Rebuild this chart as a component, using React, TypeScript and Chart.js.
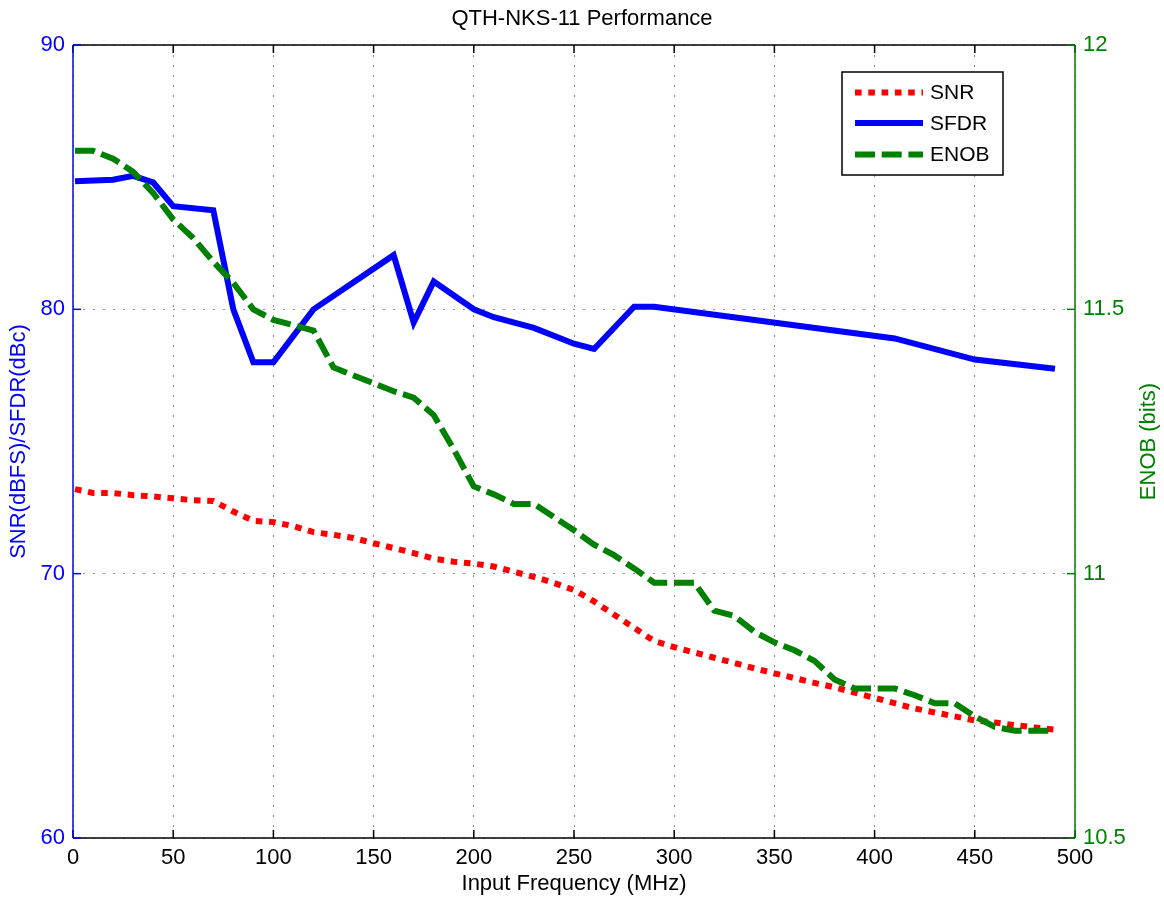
import React, { useEffect, useRef } from "react";
import { Chart, registerables } from "chart.js";

Chart.register(...registerables);

const TITLE = "QTH-NKS-11 Performance";
const X_TITLE = "Input Frequency (MHz)";
const Y_TITLE = "SNR(dBFS)/SFDR(dBc)";
const Y1_TITLE = "ENOB (bits)";

const FREQ = [1, 10, 20, 30, 40, 50, 60, 70, 80, 90, 100, 110, 120, 130, 140, 150, 160, 170, 180, 190, 200, 210, 220, 230, 240, 250, 260, 270, 280, 290, 300, 310, 320, 330, 340, 350, 360, 370, 380, 390, 400, 410, 420, 430, 440, 450, 460, 470, 480, 490];

const SNR = [73.2, 73.05, 73.05, 72.97, 72.92, 72.85, 72.78, 72.75, 72.35, 72.0, 71.95, 71.8, 71.57, 71.47, 71.35, 71.15, 70.97, 70.78, 70.57, 70.45, 70.38, 70.27, 70.07, 69.88, 69.65, 69.38, 68.95, 68.45, 67.95, 67.45, 67.22, 67.02, 66.82, 66.62, 66.42, 66.23, 66.05, 65.87, 65.7, 65.5, 65.3, 65.1, 64.9, 64.75, 64.6, 64.45, 64.37, 64.27, 64.18, 64.1];

const ENOB = [11.8, 11.8, 11.785, 11.76, 11.72, 11.67, 11.635, 11.59, 11.55, 11.5, 11.48, 11.47, 11.46, 11.39, 11.375, 11.36, 11.345, 11.333, 11.3, 11.235, 11.165, 11.15, 11.132, 11.132, 11.107, 11.082, 11.055, 11.035, 11.01, 10.983, 10.983, 10.983, 10.93, 10.92, 10.89, 10.87, 10.855, 10.835, 10.8, 10.783, 10.783, 10.783, 10.77, 10.755, 10.755, 10.73, 10.71, 10.703, 10.703, 10.703];

const SFDR_FREQ = [1, 20, 30, 40, 50, 70, 80, 90, 100, 120, 160, 170, 180, 200, 210, 230, 250, 260, 280, 290, 410, 450, 490];
const SFDR = [84.85, 84.9, 85.05, 84.8, 83.9, 83.75, 80.0, 78.0, 78.0, 80.0, 82.05, 79.5, 81.05, 80.0, 79.7, 79.3, 78.7, 78.5, 80.1, 80.1, 78.9, 78.1, 77.75];

const Y1_TICK_LABELS = ["10.5", "11", "11.5", "12"];

const FONT = "'Liberation Sans', Arial, Helvetica, sans-serif";
const BLUE = "#0000ff";
const RED = "#ff0000";
const GREEN = "#008000";

const W = 1164;
const H = 897;
const PLOT_LEFT = 73;
const PLOT_RIGHT = 1075;
const PLOT_TOP = 45;
const PLOT_BOTTOM = 838;
const FS = 22;

const toXY = (xs: number[], ys: number[]) => xs.map((x, i) => ({ x, y: ys[i] }));

const framePlugin = {
  id: "frameAndLegend",
  afterDatasetsDraw(chart: any) {
    const { ctx, chartArea: a, scales } = chart;
    const xs = scales.x;
    const ys = scales.y;
    const y1 = scales.y1;
    ctx.save();

    // legend
    const bw = 161;
    const bh = 103;
    const bx = a.right - 72 - bw;
    const by = a.top + 27;
    ctx.fillStyle = "#ffffff";
    ctx.fillRect(bx, by, bw, bh);
    ctx.lineWidth = 1.5;
    ctx.strokeStyle = "#000";
    ctx.strokeRect(bx, by, bw, bh);
    const rows = [20.6, 51, 82.6];
    chart.data.datasets.forEach((ds: any, i: number) => {
      const yy = by + rows[i];
      ctx.save();
      ctx.strokeStyle = ds.borderColor;
      ctx.lineWidth = ds.borderWidth;
      ctx.setLineDash(ds.borderDash || []);
      ctx.lineCap = "butt";
      ctx.beginPath();
      ctx.moveTo(bx + 13, yy);
      ctx.lineTo(bx + 81, yy);
      ctx.stroke();
      ctx.restore();
      ctx.fillStyle = "#000";
      ctx.font = `21px ${FONT}`;
      ctx.textAlign = "left";
      ctx.textBaseline = "middle";
      ctx.fillText(ds.label, bx + 88, yy + 1);
    });

    // frame
    ctx.setLineDash([]);
    ctx.lineWidth = 1.5;
    ctx.strokeStyle = "#000";
    ctx.beginPath();
    ctx.moveTo(a.left, a.top);
    ctx.lineTo(a.right, a.top);
    ctx.moveTo(a.left, a.bottom);
    ctx.lineTo(a.right, a.bottom);
    ctx.stroke();
    xs.ticks.forEach((t: any) => {
      const px = xs.getPixelForValue(t.value);
      ctx.beginPath();
      ctx.moveTo(px, a.top);
      ctx.lineTo(px, a.top + 8);
      ctx.moveTo(px, a.bottom);
      ctx.lineTo(px, a.bottom - 8);
      ctx.stroke();
    });
    ctx.strokeStyle = BLUE;
    ctx.beginPath();
    ctx.moveTo(a.left, a.top);
    ctx.lineTo(a.left, a.bottom);
    ctx.stroke();
    ys.ticks.forEach((t: any) => {
      const py = ys.getPixelForValue(t.value);
      ctx.beginPath();
      ctx.moveTo(a.left, py);
      ctx.lineTo(a.left + 8, py);
      ctx.stroke();
    });
    ctx.strokeStyle = GREEN;
    ctx.beginPath();
    ctx.moveTo(a.right, a.top);
    ctx.lineTo(a.right, a.bottom);
    ctx.stroke();
    y1.ticks.forEach((t: any) => {
      const py = y1.getPixelForValue(t.value);
      ctx.beginPath();
      ctx.moveTo(a.right, py);
      ctx.lineTo(a.right - 8, py);
      ctx.stroke();
    });

    // right axis title (reads bottom-to-top)
    ctx.translate(1149, (a.top + a.bottom) / 2);
    ctx.rotate(-Math.PI / 2);
    ctx.fillStyle = GREEN;
    ctx.font = `${FS}px ${FONT}`;
    ctx.textAlign = "center";
    ctx.textBaseline = "middle";
    ctx.fillText(Y1_TITLE, 0, 0);
    ctx.restore();
  },
};

export default function App() {
  const ref = useRef<HTMLCanvasElement | null>(null);

  useEffect(() => {
    document.body.style.margin = "0";
    document.body.style.overflow = "hidden";
    const canvas = ref.current;
    if (!canvas) return;
    const chart = new Chart(canvas, {
      type: "line",
      data: {
        datasets: [
          {
            label: "SNR",
            data: toXY(FREQ, SNR),
            borderColor: RED,
            backgroundColor: RED,
            borderWidth: 6,
            borderDash: [6.6, 6.7],
            borderCapStyle: "butt",
            pointRadius: 0,
            tension: 0,
            yAxisID: "y",
            order: 2,
          },
          {
            label: "SFDR",
            data: toXY(SFDR_FREQ, SFDR),
            borderColor: BLUE,
            backgroundColor: BLUE,
            borderWidth: 6,
            borderJoinStyle: "miter",
            pointRadius: 0,
            tension: 0,
            yAxisID: "y",
            order: 1,
          },
          {
            label: "ENOB",
            data: toXY(FREQ, ENOB),
            borderColor: GREEN,
            backgroundColor: GREEN,
            borderWidth: 6,
            borderDash: [20, 6.7],
            borderCapStyle: "butt",
            pointRadius: 0,
            tension: 0,
            yAxisID: "y1",
            order: 0,
          },
        ],
      } as any,
      options: {
        animation: false,
        responsive: false,
        maintainAspectRatio: false,
        layout: { padding: 0 },
        plugins: {
          legend: { display: false },
          tooltip: { enabled: false },
          title: {
            display: true,
            text: TITLE,
            color: "#000",
            font: { family: FONT, size: FS, weight: "normal" },
            padding: { top: 6, bottom: PLOT_TOP - 6 - FS * 1.2 },
          },
        },
        scales: {
          x: {
            type: "linear",
            position: "bottom",
            min: 0,
            max: 500,
            ticks: {
              stepSize: 50,
              color: "#000",
              font: { family: FONT, size: FS },
              padding: 7,
              maxRotation: 0,
            },
            grid: { color: "#8a8a8a", lineWidth: 1, drawTicks: false },
            border: { display: false, dash: [2, 8] },
            title: {
              display: true,
              text: X_TITLE,
              color: "#000",
              font: { family: FONT, size: FS },
              padding: { top: 0, bottom: 0 },
            },
            afterFit: (s: any) => {
              s.height = H - PLOT_BOTTOM;
            },
          },
          y: {
            type: "linear",
            position: "left",
            min: 60,
            max: 90,
            ticks: {
              stepSize: 10,
              color: BLUE,
              font: { family: FONT, size: FS },
              padding: 8,
            },
            grid: { color: "#8c8cf0", lineWidth: 1, drawTicks: false },
            border: { display: false, dash: [2, 8] },
            title: {
              display: true,
              text: Y_TITLE,
              color: BLUE,
              font: { family: FONT, size: FS },
              padding: { top: 6, bottom: 0 },
            },
            afterFit: (s: any) => {
              s.width = PLOT_LEFT;
            },
          },
          y1: {
            type: "linear",
            position: "right",
            min: 10.5,
            max: 12,
            ticks: {
              stepSize: 0.5,
              color: GREEN,
              font: { family: FONT, size: FS },
              padding: 8,
              callback: (_v: any, i: number) => Y1_TICK_LABELS[i],
            },
            grid: { display: false, drawTicks: false },
            border: { display: false },
            afterFit: (s: any) => {
              s.width = W - PLOT_RIGHT;
            },
          },
        },
      } as any,
      plugins: [framePlugin],
    });
    return () => chart.destroy();
  }, []);

  return (
    <div style={{ width: W, height: H, background: "#fff" }}>
      <canvas ref={ref} width={W} height={H} style={{ width: W, height: H, display: "block" }} />
    </div>
  );
}
